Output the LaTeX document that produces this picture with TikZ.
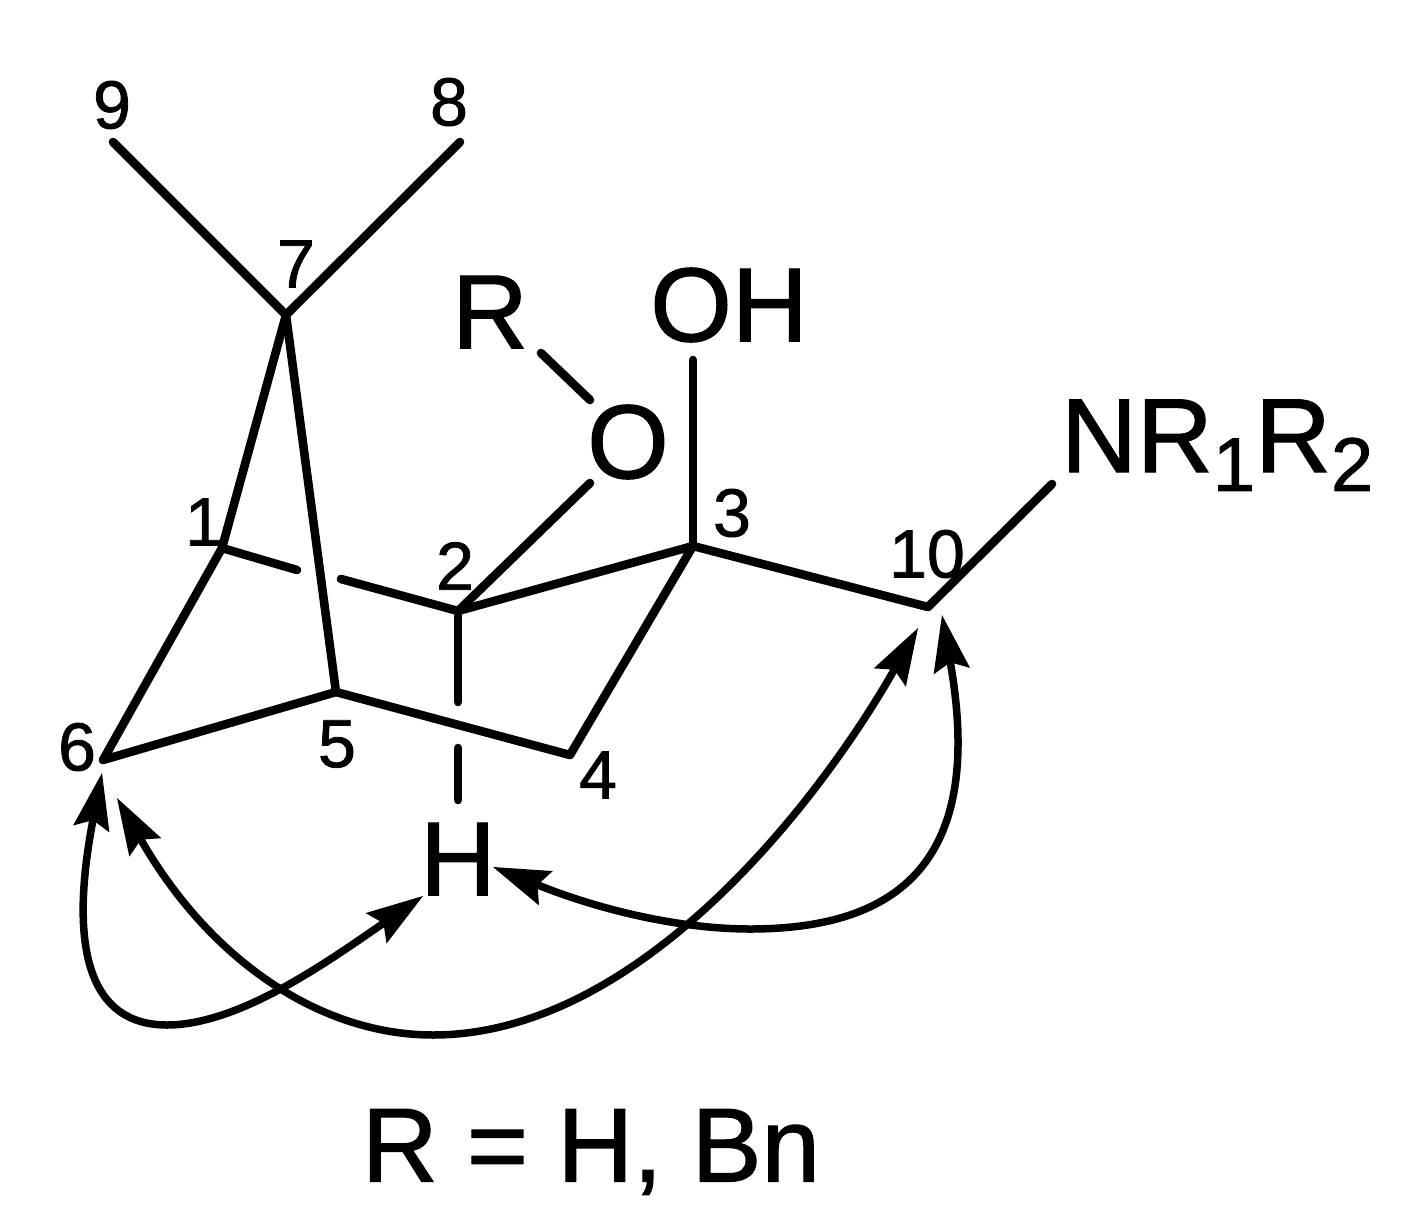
\documentclass[tikz,border=0pt]{standalone}
\usepackage{fontspec}
\setmainfont{Liberation Sans}[FakeBold=1.2]
\usetikzlibrary{arrows.meta}
\tikzset{
  bond/.style={line width=8.6pt,line cap=round,line join=round,black},
  noetip/.tip={Stealth[length=57pt,width=37pt,inset=9pt,line width=0pt]},
  noe/.style={line width=7.5pt,black,noetip-noetip},
  big/.style={inner sep=0pt,font=\fontsize{105}{105}\selectfont},
  small/.style={inner sep=0pt,font=\fontsize{68}{68}\selectfont}
}
\newcommand{\subnum}[1]{\raisebox{-0.18em}{\fontsize{76}{76}\selectfont #1}}
\begin{document}
\begin{tikzpicture}[x=1pt,y=-1pt]
\useasboundingbox[fill=white] (0,0) rectangle (1427,1226);
\coordinate (c7) at (286,315);
\coordinate (c9) at (113,142);
\coordinate (c8) at (460,142);
\coordinate (c1) at (222,548);
\coordinate (c2) at (458,611);
\coordinate (c3) at (693,546);
\coordinate (c4) at (570,755);
\coordinate (c5) at (336,692);
\coordinate (c6) at (103,760);
\coordinate (c10) at (928,607);
\coordinate (nr) at (1052,484);
\coordinate (oh) at (693,360);
\coordinate (oa) at (590,483);
\coordinate (ob) at (590,400);
\coordinate (ra) at (541,353);
\coordinate (b1e) at (297,570);
\coordinate (b2s) at (341,579);
\coordinate (h1) at (458,702);
\coordinate (h2) at (458,748);
\coordinate (h3) at (458,800);
\draw[bond] (c9) -- (c7) -- (c8);
\draw[bond] (c7) -- (c1) -- (c6) -- (c5) -- (c4) -- (c3) -- (c2);
\draw[bond] (c7) -- (c5);
\draw[bond] (c1) -- (b1e);
\draw[bond] (b2s) -- (c2);
\draw[bond] (c3) -- (c10) -- (nr);
\draw[bond] (c3) -- (oh);
\draw[bond] (c2) -- (oa);
\draw[bond] (ob) -- (ra);
\draw[bond] (c2) -- (h1);
\draw[bond] (h2) -- (h3);
\node[small] (n9) at (112,105) {9};
\node[small] (n8) at (449,102) {8};
\node[small] (n7) at (296,264) {7};
\node[small] (n1) at (204,522) {1};
\node[small] (n2) at (455,566) {2};
\node[small] (n3) at (732,513) {3};
\node[small] (n10) at (927,554) {10};
\node[small] (n4) at (598,775) {4};
\node[small] (n5) at (337,744) {5};
\node[small] (n6) at (77,747) {6};
\node[big] (lr) at (490,312) {R};
\node[big] (lo) at (628,442) {O};
\node[big] (loh) at (729,305) {OH};
\node[big,anchor=base west] (lnr) at (1061,472) {NR\subnum{1}R\subnum{2}};
\node[big] (lh) at (458,859) {H};
\node[big] (lcap) at (591,1152) {R = H, Bn};
\coordinate (t6) at (102,773);
\coordinate (t6b) at (117,798);
\coordinate (tH) at (423,896);
\coordinate (tHb) at (493,867);
\coordinate (t10) at (918,628);
\coordinate (t10b) at (942,615);
\draw[noe] (t6) .. controls (68,950) and (90,1025) .. (167,1025) .. controls (240,1025) and (330,960) .. (tH);
\draw[noe] (t6b) .. controls (210,960) and (320,1035) .. (433,1035) .. controls (640,1035) and (820,800) .. (t10);
\draw[noe] (tHb) .. controls (600,910) and (680,929) .. (750,929) .. controls (900,929) and (985,860) .. (t10b);
\end{tikzpicture}
\end{document}
